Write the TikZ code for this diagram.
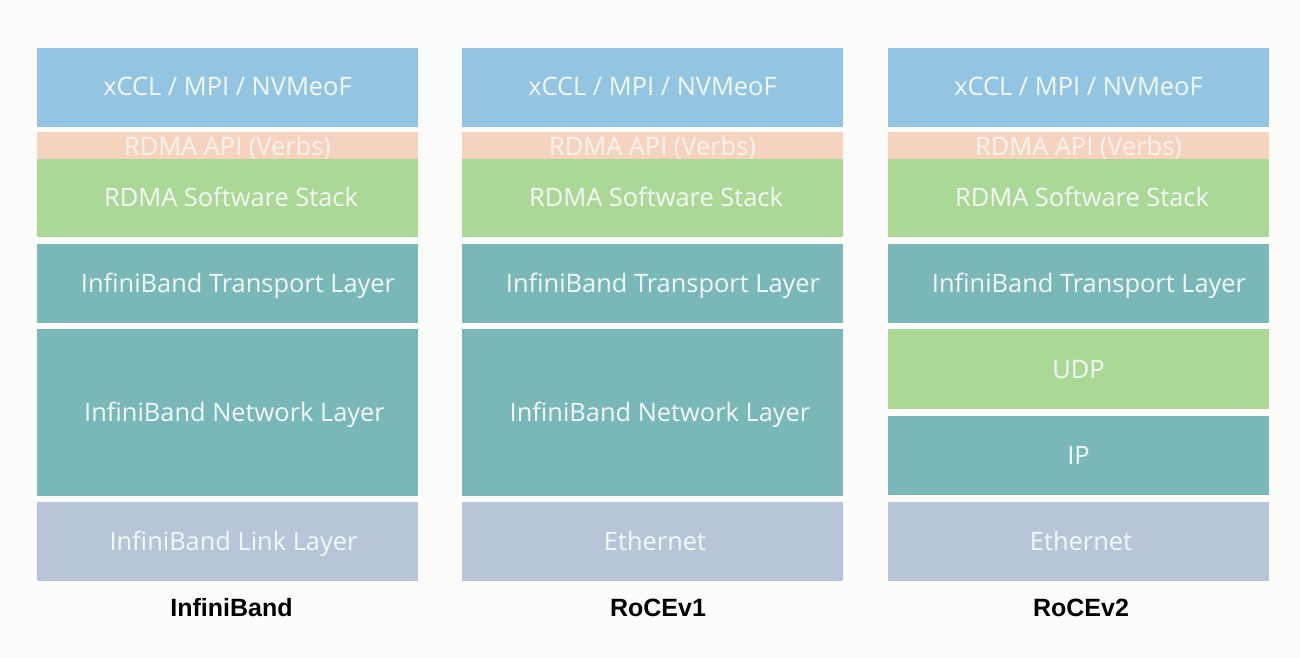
\documentclass[tikz,border=0pt]{standalone}
\usepackage{fontspec}
\setmainfont{Open Sans}
\newfontfamily\labelfont{Liberation Sans}
\definecolor{bgc}{RGB}{252,252,250}
\definecolor{appc}{RGB}{147,197,227}
\definecolor{apic}{RGB}{246,211,190}
\definecolor{swc}{RGB}{172,216,151}
\definecolor{ibc}{RGB}{122,183,185}
\definecolor{linkc}{RGB}{184,196,216}
\definecolor{txtc}{RGB}{242,249,247}
\tikzset{
  layer/.style={fill=#1, draw=none},
  ltext/.style={text=txtc, font=\fontsize{25.4}{25.4}\selectfont, inner sep=0pt, anchor=base},
  apitext/.style={text=white, opacity=0.75, font=\fontsize{25.4}{25.4}\selectfont, inner sep=0pt, anchor=base},
  captext/.style={text=black, font=\labelfont\bfseries\fontsize{25}{25}\selectfont, inner sep=0pt, anchor=base}
}
\begin{document}
\begin{tikzpicture}[x=1pt,y=-1pt]
\fill[bgc] (0,0) rectangle (1300,658);
\useasboundingbox (0,0) rectangle (1300,658);
% column lefts: 37, 462, 888 ; width 381
\foreach \cx/\nm in {37/a,462/b,888/c}{
  \fill[layer=appc] (\cx,48) rectangle ++(381,79);
  \fill[layer=apic] (\cx,132) rectangle ++(381,28);
  \node[apitext] (\nm api) at (\cx+190.5,155) {RDMA API (Verbs)};
  \fill[layer=swc] (\cx,159) rectangle ++(381,78);
  \node[ltext] (\nm app) at (\cx+190.5,96) {xCCL / MPI / NVMeoF};
  \node[ltext] (\nm sw) at (\cx+194,206) {RDMA Software Stack};
  \fill[layer=ibc] (\cx,244) rectangle ++(381,79);
  \node[ltext] (\nm tr) at (\cx+201,292) {InfiniBand Transport Layer};
  \fill[layer=linkc] (\cx,502) rectangle ++(381,79);
}
% column 1 and 2 network
\fill[layer=ibc] (37,329) rectangle ++(381,167);
\node[ltext] (anet) at (234.5,421) {InfiniBand Network Layer};
\fill[layer=ibc] (462,329) rectangle ++(381,167);
\node[ltext] (bnet) at (660,421) {InfiniBand Network Layer};
% column 3
\fill[layer=swc] (888,329) rectangle ++(381,80);
\node[ltext] (cudp) at (1078.5,378) {UDP};
\fill[layer=ibc] (888,416) rectangle ++(381,79);
\node[ltext] (cip) at (1078.5,464) {IP};
% bottom layers
\node[ltext] (alink) at (233.5,550) {InfiniBand Link Layer};
\node[ltext] (beth) at (655,550) {Ethernet};
\node[ltext] (ceth) at (1081,550) {Ethernet};
% captions
\node[captext] (acap) at (231.5,616) {InfiniBand};
\node[captext] (bcap) at (658,616) {RoCEv1};
\node[captext] (ccap) at (1081,616) {RoCEv2};
\end{tikzpicture}
\end{document}
